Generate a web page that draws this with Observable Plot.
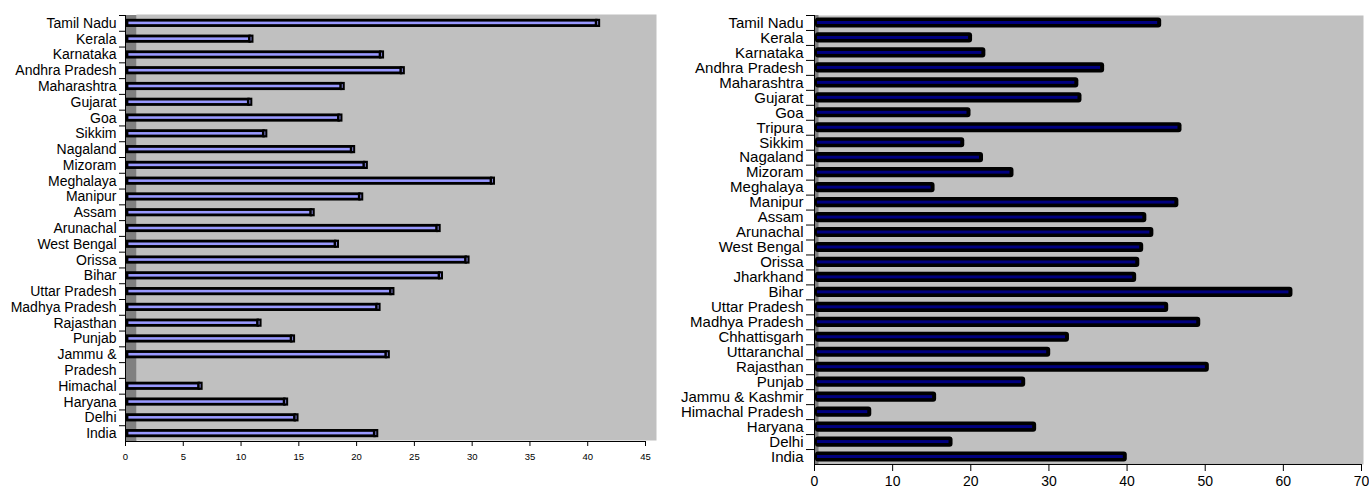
<!DOCTYPE html>
<html><head><meta charset="utf-8">
<script src="https://cdn.jsdelivr.net/npm/d3@7"></script>
<script src="https://cdn.jsdelivr.net/npm/@observablehq/plot@0.6"></script>
<style>
body{margin:0;background:#fff;}
#wrap{display:flex;width:1369px;height:491px;}
</style>
</head><body><div id="wrap"></div>
<script>
const leftStates = ["Tamil Nadu","Kerala","Karnataka","Andhra Pradesh","Maharashtra","Gujarat","Goa","Sikkim","Nagaland","Mizoram","Meghalaya","Manipur","Assam","Arunachal","West Bengal","Orissa","Bihar","Uttar Pradesh","Madhya Pradesh","Rajasthan","Punjab","Jammu &","Pradesh","Himachal","Haryana","Delhi","India"];
const leftValues = [40.6,10.6,21.9,23.7,18.5,10.5,18.3,11.8,19.4,20.5,31.5,20.1,15.9,26.8,18.0,29.3,27.0,22.8,21.6,11.3,14.2,22.4,null,6.2,13.6,14.5,21.4];
const leftTicks = [0,5,10,15,20,25,30,35,40,45];

const rightStates = ["Tamil Nadu","Kerala","Karnataka","Andhra Pradesh","Maharashtra","Gujarat","Goa","Tripura","Sikkim","Nagaland","Mizoram","Meghalaya","Manipur","Assam","Arunachal","West Bengal","Orissa","Jharkhand","Bihar","Uttar Pradesh","Madhya Pradesh","Chhattisgarh","Uttaranchal","Rajasthan","Punjab","Jammu & Kashmir","Himachal Pradesh","Haryana","Delhi","India"];
const rightValues = [44.3,20.1,21.8,37.0,33.7,34.1,19.9,46.9,19.1,21.5,25.4,15.3,46.5,42.4,43.3,42.0,41.5,41.1,61.1,45.2,49.3,32.5,30.1,50.4,26.9,15.5,7.2,28.3,17.6,39.9];
const rightTicks = [0,10,20,30,40,50,60,70];

const font = '"Liberation Sans", Arial, sans-serif';
const wrap = document.getElementById("wrap");

// Left chart
{
  const H = 491, mt = 15, mb = 50;
  const step = (H - mt - mb) / leftStates.length;
  const data = leftStates.map((s, i) => ({state: s, value: leftValues[i]}));
  const bars = data.filter(d => d.value != null);
  const chart = Plot.plot({
    width: 680, height: H,
    marginLeft: 125, marginRight: 35, marginTop: mt, marginBottom: mb,
    style: {fontFamily: font, fontSize: "14px", color: "#000", background: "#fff", overflow: "visible"},
    x: {domain: [0, 45], axis: null, label: null},
    y: {domain: leftStates, padding: 0, round: false, axis: null, label: null},
    marks: [
      Plot.frame({fill: "#c0c0c0", stroke: null, dx: 11, dy: -1}),
      Plot.ruleX([0], {stroke: "#808080", strokeWidth: 11, dx: 5.5}),
      Plot.ruleX([0], {stroke: "#000", strokeWidth: 1}),
      Plot.barX(bars, {y: "state", x: "value", fill: "#9999ff", stroke: "#000", strokeWidth: 2.8, insetTop: 5.2, insetBottom: 5.2, dx: 2}),
      Plot.tickX(bars, {y: "state", x: "value", stroke: "#000", strokeWidth: 5, insetTop: 3.8, insetBottom: 3.8, dx: 3}),
      Plot.tickX(bars, {y: "state", x: "value", stroke: "#8080d0", strokeWidth: 1, insetTop: 6, insetBottom: 6, dx: 3}),
      Plot.axisY({tickSize: 0, tickPadding: 9, fontSize: 14, label: null}),
      Plot.axisY({tickSize: 6, text: null, dy: -step / 2, label: null}),
      Plot.ruleY([leftStates[leftStates.length - 1]], {stroke: "#000", dy: step / 2}),
      Plot.axisX({ticks: leftTicks, tickSize: 5, tickPadding: 7, fontSize: 9.5, stroke: "#000", label: null})
    ]
  });
  wrap.appendChild(chart);
}

// Right chart
{
  const H = 491, mt = 15, mb = 27;
  const step = (H - mt - mb) / rightStates.length;
  const data = rightStates.map((s, i) => ({state: s, value: rightValues[i]}));
  const chart = Plot.plot({
    width: 689, height: H,
    marginLeft: 134, marginRight: 8, marginTop: mt, marginBottom: mb,
    style: {fontFamily: font, fontSize: "15px", color: "#000", background: "#fff", overflow: "visible"},
    x: {domain: [0, 70], axis: null, label: null},
    y: {domain: rightStates, padding: 0, round: false, axis: null, label: null},
    marks: [
      Plot.frame({fill: "#c0c0c0", stroke: null, dx: 2}),
      Plot.ruleX([0], {stroke: "#808080", strokeWidth: 4, dx: 2}),
      Plot.ruleX([0], {stroke: "#000", strokeWidth: 1}),
      Plot.barX(data, {y: "state", x: "value", fill: "#000", insetTop: 2.4, insetBottom: 2.4, rx: 3, dx: 1}),
      Plot.barX(data, {y: "state", x: "value", fill: "#000080", insetTop: 6, insetBottom: 6, insetLeft: 2, insetRight: 4, dx: 1}),
      Plot.axisY({tickSize: 0, tickPadding: 11, fontSize: 15, label: null}),
      Plot.axisY({tickSize: 8, text: null, dy: -step / 2, label: null}),
      Plot.ruleY([rightStates[rightStates.length - 1]], {stroke: "#000", dy: step / 2}),
      Plot.axisX({ticks: rightTicks, tickSize: 7, tickPadding: 5, fontSize: 14, stroke: "#000", label: null})
    ]
  });
  wrap.appendChild(chart);
}
</script>
</body></html>
